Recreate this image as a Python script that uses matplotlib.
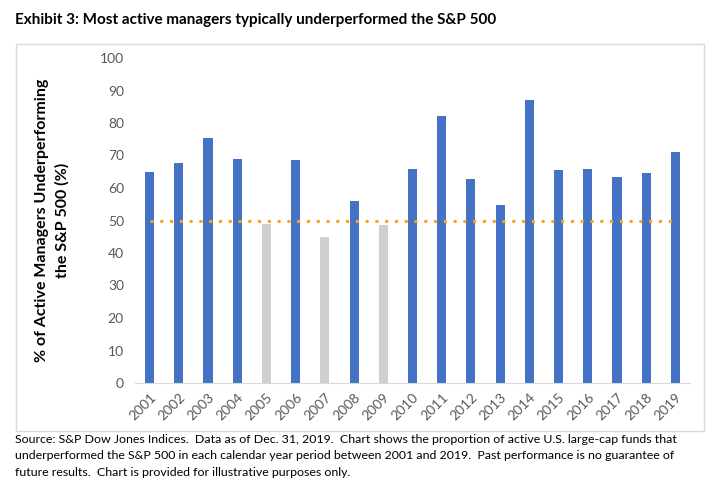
import matplotlib.pyplot as plt
from matplotlib.patches import Rectangle

years = [str(y) for y in range(2001, 2020)]
pct_under = [65, 67.8, 75.5, 68.8, 48.9, 68.5, 44.9, 56, 48.6, 65.9,
             82.2, 62.8, 54.8, 87.1, 65.5, 65.9, 63.3, 64.6, 71]
threshold = 50

blue = '#4472C4'
grey = '#D0CECE'
bar_colors = [blue if v >= threshold else grey for v in pct_under]

plt.rcParams['font.family'] = ['Lato', 'DejaVu Sans']

fig = plt.figure(figsize=(7.28, 4.93), dpi=100)

# chart border box
fig.patches.append(Rectangle((16/728, 1-431/493), (704-16)/728, (431-44)/493,
                             transform=fig.transFigure, fill=False,
                             edgecolor='#D9D9D9', linewidth=1))

ax = fig.add_axes([135/728, 1-383/493, 555/728, 325/493])
x = list(range(len(years)))
ax.bar(x, pct_under, width=0.31, color=bar_colors, zorder=2)
ax.plot([x[0], x[-1]], [threshold, threshold], color='#F5A623',
        linestyle=(0, (1, 2.2)), linewidth=2.2, zorder=3)

ax.set_xlim(-0.5, len(years) - 0.5)
ax.set_ylim(0, 100)
ax.set_yticks(range(0, 101, 10))
ax.set_xticks(x)
ax.set_xticklabels(years, rotation=45, ha='right', rotation_mode='anchor')
ax.tick_params(axis='both', length=0, labelsize=10, colors='#595959', pad=8)
ax.tick_params(axis='x', pad=6)
for s in ['top', 'right', 'left']:
    ax.spines[s].set_visible(False)
ax.spines['bottom'].set_color('#D9D9D9')
ax.set_ylabel('% of Active Managers Underperforming\nthe S&P 500 (%)',
              fontsize=11.5, fontweight='bold', color='black', labelpad=22,
              linespacing=1.5)

fig.text(15/728, 1-20/493, 'Exhibit 3: Most active managers typically underperformed the S&P 500',
         fontsize=11, fontweight='bold', va='center', ha='left')

foot = ("Source: S&P Dow Jones Indices.  Data as of Dec. 31, 2019.  Chart shows the proportion of active U.S. large-cap funds that\n"
        "underperformed the S&P 500 in each calendar year period between 2001 and 2019.  Past performance is no guarantee of\n"
        "future results.  Chart is provided for illustrative purposes only.")
fig.text(15/728, 1-434/493, foot, fontsize=8.9, va='top', ha='left', linespacing=1.6)

fig.savefig('out.png', dpi=100)
